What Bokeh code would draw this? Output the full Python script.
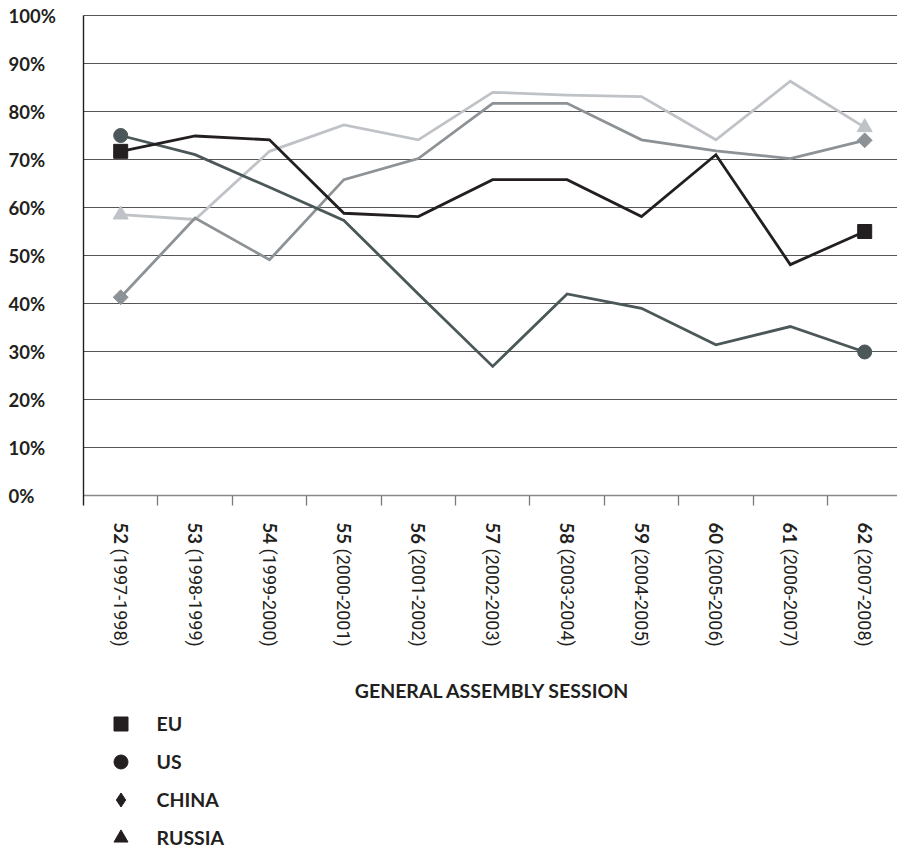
import math
from bokeh.plotting import figure
from bokeh.models import Range1d, FixedTicker, Grid, Legend, LegendItem
from bokeh.core.properties import value
from bokeh.embed import file_html
from bokeh.resources import INLINE

# ---- data ----
sessions = ["52", "53", "54", "55", "56", "57", "58", "59", "60", "61", "62"]
years = ["(1997-1998)", "(1998-1999)", "(1999-2000)", "(2000-2001)", "(2001-2002)",
         "(2002-2003)", "(2003-2004)", "(2004-2005)", "(2005-2006)", "(2006-2007)",
         "(2007-2008)"]
eu = [71.7, 74.9, 74.1, 58.8, 58.1, 65.8, 65.8, 58.1, 71.0, 48.1, 55.0]
us = [75.0, 71.0, 64.2, 57.3, 42.0, 26.9, 42.0, 39.0, 31.4, 35.2, 29.9]
china = [41.3, 57.8, 49.1, 65.8, 70.2, 81.7, 81.7, 74.1, 71.8, 70.2, 74.0]
russia = [58.5, 57.5, 71.7, 77.2, 74.1, 84.0, 83.4, 83.1, 74.1, 86.3, 76.7]
y_ticks = [0, 10, 20, 30, 40, 50, 60, 70, 80, 90, 100]
y_tick_labels = ["0%", "10%", "20%", "30%", "40%", "50%", "60%", "70%", "80%", "90%", "100%"]
series_names = ["EU", "US", "CHINA", "RUSSIA"]
x_title = "GENERAL ASSEMBLY SESSION"

# ---- layout (pixels) ----
W, H = 897, 849
PLOT_LEFT = 83      # left axis, px
ZERO_Y = 495        # 0% line, px
CAT_W = 74.4        # px per session
PCT_H = 4.8         # px per percentage point
TICK_LEN = 10


def dx(px):
    return (px - PLOT_LEFT) / CAT_W - 0.5


def dy(py):
    return (ZERO_Y - py) / PCT_H


# ---- styles ----
C_EU = "#231f20"
C_US = "#4b5758"
C_CN = "#8d9296"
C_RU = "#bfc3c7"
BOLD_FONT = "Lato"

idx = list(range(len(sessions)))
n = len(idx)

p = figure(width=W, height=H,
           x_range=Range1d(dx(0), dx(W)), y_range=Range1d(dy(H), dy(0)),
           output_backend="svg", toolbar_location=None,
           min_border=0, min_border_left=0, min_border_right=0,
           min_border_top=0, min_border_bottom=0)
p.outline_line_color = None
p.background_fill_color = "white"
p.border_fill_color = "white"
p.xaxis.visible = False
p.yaxis.visible = False
p.xgrid.visible = False
p.ygrid.visible = False

HAS_CROSS = "cross_bounds" in Grid.properties()


def guide_lines(dim, ticks, cross, color, width):
    """Grid lines at `ticks` limited to `cross` extent in the other dimension."""
    if HAS_CROSS:
        p.add_layout(Grid(dimension=dim, ticker=FixedTicker(ticks=ticks),
                          cross_bounds=cross, grid_line_color=color,
                          grid_line_width=width))
    else:
        if dim == 1:
            p.segment(x0=[cross[0]] * len(ticks), x1=[cross[1]] * len(ticks),
                      y0=ticks, y1=ticks, line_color=color, line_width=width)
        else:
            p.segment(x0=ticks, x1=ticks, y0=[cross[0]] * len(ticks),
                      y1=[cross[1]] * len(ticks), line_color=color, line_width=width)


right_edge = dx(W)
guide_lines(1, y_ticks[1:], (-0.5, right_edge), "#555555", 1.2)     # grid
guide_lines(1, [0], (-0.5, right_edge), "#8a8a8a", 1.6)             # baseline
guide_lines(0, [i + 0.5 for i in idx[:-1]] + [n - 0.5],
            (dy(ZERO_Y + TICK_LEN), 0), "#7a7a7a", 1.3)             # x ticks
guide_lines(0, [-0.5], (dy(ZERO_Y + TICK_LEN), 100), C_EU, 1.4)     # y axis

# lines
for data, col in [(russia, C_RU), (china, C_CN), (us, C_US), (eu, C_EU)]:
    p.line(idx, data, line_color=col, line_width=2.8, line_join="miter")

# end markers
ends = [0, n - 1]
p.scatter([idx[i] for i in ends], [eu[i] for i in ends], marker="square", size=14,
          fill_color=C_EU, line_color=C_EU)
p.scatter([idx[i] for i in ends], [us[i] for i in ends], marker="circle", size=14,
          fill_color=C_US, line_color=C_US)
p.scatter([idx[i] for i in ends], [china[i] for i in ends], marker="square", size=10.5,
          angle=math.pi / 4, fill_color=C_CN, line_color=C_CN)
p.scatter([idx[i] for i in ends], [russia[i] for i in ends], marker="triangle", size=15,
          fill_color=C_RU, line_color=C_RU)

# y tick labels (left aligned)
p.text(x=[dx(8)] * len(y_ticks), y=y_ticks, text=y_tick_labels,
       text_align="left", text_baseline="middle",
       text_font=value(BOLD_FONT), text_font_style="bold",
       text_font_size="18.5px", text_color=C_EU)

# x tick labels (rotated): bold session number + years
p.text(x=idx, y=[dy(522)] * n, text=sessions, angle=-math.pi / 2,
       text_align="left", text_baseline="middle",
       text_font=value(BOLD_FONT), text_font_style="bold",
       text_font_size="18.5px", text_color=C_EU)
p.text(x=idx, y=[dy(548)] * n, text=years, angle=-math.pi / 2,
       text_align="left", text_baseline="middle",
       text_font=value("Roboto"), text_font_size="18px", text_color=C_EU)

# x axis title
p.text(x=[dx(492)], y=[dy(690)], text=[x_title],
       text_align="center", text_baseline="middle",
       text_font=value(BOLD_FONT), text_font_style="bold",
       text_font_size="19.5px", text_color=C_EU)

# legend (black markers); each legend renderer holds one off-screen point
nan = float("nan")
r_eu = p.scatter([nan], [nan], marker="square", fill_color=C_EU, line_color=C_EU)
r_us = p.scatter([nan], [nan], marker="circle", fill_color=C_EU, line_color=C_EU)
r_cn = p.scatter([nan], [nan], marker="diamond", fill_color=C_EU, line_color=C_EU)
r_ru = p.scatter([nan], [nan], marker="triangle", fill_color=C_EU, line_color=C_EU)
legend = Legend(items=[LegendItem(label=nm, renderers=[r]) for nm, r in
                       zip(series_names, [r_eu, r_us, r_cn, r_ru])],
                location=(102.5, H - 854.5), orientation="vertical",
                glyph_width=35, glyph_height=35, spacing=3, padding=0, margin=0,
                label_standoff=19, border_line_color=None, background_fill_alpha=0,
                label_text_font=BOLD_FONT, label_text_font_style="bold",
                label_text_font_size="19.5px", label_text_color=C_EU,
                label_text_baseline="middle")
p.add_layout(legend)

open("out.html", "w").write(file_html(p, INLINE))
